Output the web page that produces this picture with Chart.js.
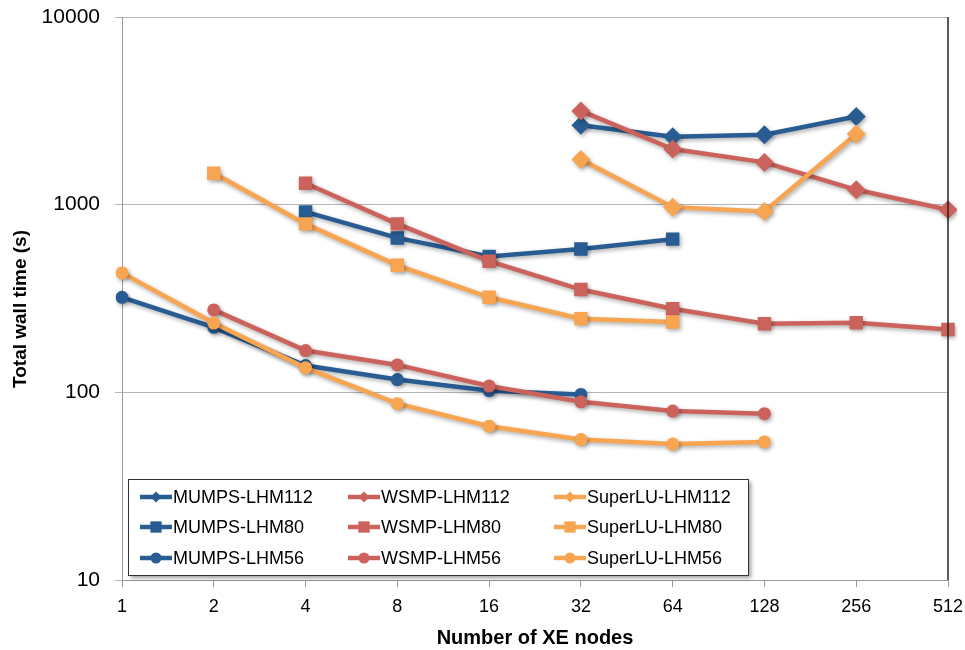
<!DOCTYPE html>
<html><head><meta charset="utf-8">
<script src="https://cdn.jsdelivr.net/npm/chart.js@4"></script>
<style>html,body{margin:0;padding:0;background:#fff}canvas{display:block}</style>
</head><body>
<canvas id="c" width="965" height="650"></canvas>
<script>
const xLabels = ['1','2','4','8','16','32','64','128','256','512'];
const yTicks = [10, 100, 1000, 10000];
const xTitle = 'Number of XE nodes';
const yTitle = 'Total wall time (s)';

const mumps112   = [null, null, null, null, null, 2650, 2300, 2360, 2950, null];
const wsmp112    = [null, null, null, null, null, 3160, 1980, 1680, 1200, 940];
const superlu112 = [null, null, null, null, null, 1740, 970, 920, 2380, null];
const mumps80    = [null, null, 915, 665, 530, 580, 655, null, null, null];
const wsmp80     = [null, null, 1300, 790, 500, 353, 279, 232, 235, 216];
const superlu80  = [null, 1470, 790, 475, 321, 247, 237, null, null, null];
const mumps56    = [321, 222, 139, 117, 102, 97.5, null, null, null, null];
const wsmp56     = [null, 275, 167, 140, 108, 89, 79.5, 77, null, null];
const superlu56  = [433, 234, 135, 87, 66, 56, 53, 54.4, null, null];

const seriesLabels = ['MUMPS-LHM112','WSMP-LHM112','SuperLU-LHM112',
                      'MUMPS-LHM80','WSMP-LHM80','SuperLU-LHM80',
                      'MUMPS-LHM56','WSMP-LHM56','SuperLU-LHM56'];
const seriesData = [mumps112, wsmp112, superlu112, mumps80, wsmp80, superlu80, mumps56, wsmp56, superlu56];

const BLUE = '#285C92', RED = '#CC625C', ORANGE = '#F8A552';
const colors = [BLUE, RED, ORANGE];
const styles = [
  {pointStyle:'rectRot', radius:9.5, lr:5.5},
  {pointStyle:'rect', radius:9.5, lr:8},
  {pointStyle:'circle', radius:6.5, lr:5.5}
];
const FONT = '"Liberation Sans", Arial, sans-serif';

const datasets = seriesData.map((d, i) => {
  const col = colors[i % 3], st = styles[Math.floor(i / 3)];
  return {
    label: seriesLabels[i], data: d,
    borderColor: col, backgroundColor: col,
    pointBackgroundColor: col, pointBorderColor: col, pointBorderWidth: 0,
    borderWidth: 4.5, pointStyle: st.pointStyle, pointRadius: st.radius,
    pointHoverRadius: st.radius, tension: 0, spanGaps: false,
    order: 3 - (i % 3)
  };
});

function noPad(s) { s.paddingTop = 0; s.paddingBottom = 0; s.paddingLeft = 0; s.paddingRight = 0; }

const decor = {
  id: 'decor',
  beforeDatasetsDraw(chart) {
    const c = chart.ctx; c.save();
    c.shadowColor = 'rgba(0,0,0,0.33)'; c.shadowBlur = 4; c.shadowOffsetX = 1.5; c.shadowOffsetY = 2;
  },
  afterDatasetsDraw(chart) { chart.ctx.restore(); },
  afterDraw(chart) {
    const c = chart.ctx, a = chart.chartArea;
    c.save();
    c.strokeStyle = '#222'; c.lineWidth = 1.5;
    c.beginPath(); c.moveTo(a.right, a.top); c.lineTo(a.right, a.bottom); c.stroke();
    c.restore();
    // y title
    c.save();
    c.translate(21, 309); c.rotate(-Math.PI / 2);
    c.font = 'bold 19px ' + FONT; c.fillStyle = '#000';
    c.textAlign = 'center'; c.textBaseline = 'middle';
    c.fillText(yTitle, 0, 0);
    c.restore();
    // legend
    const bx = 128, by = 479, bw = 620, bh = 96;
    c.save();
    c.shadowColor = 'rgba(0,0,0,0.4)'; c.shadowBlur = 4; c.shadowOffsetX = 3; c.shadowOffsetY = 3;
    c.fillStyle = '#fff'; c.fillRect(bx, by, bw, bh);
    c.restore();
    c.save();
    c.strokeStyle = '#333'; c.lineWidth = 1;
    c.strokeRect(bx + 0.5, by + 0.5, bw, bh);
    c.restore();
    const colX = [140, 348, 554], rowY = [497, 527, 558];
    chart.data.datasets.forEach((ds, i) => {
      const x = colX[i % 3], y = rowY[Math.floor(i / 3)];
      const st = styles[Math.floor(i / 3)];
      c.save();
      c.strokeStyle = ds.borderColor; c.lineWidth = 4.5;
      c.beginPath(); c.moveTo(x, y); c.lineTo(x + 32, y); c.stroke();
      c.fillStyle = ds.borderColor;
      Chart.helpers.drawPoint(c, {pointStyle: st.pointStyle, radius: st.lr, borderWidth: 0, rotation: 0}, x + 16, y);
      c.fillStyle = '#000'; c.font = '18px ' + FONT;
      c.textAlign = 'left'; c.textBaseline = 'middle';
      c.fillText(ds.label, x + 33, y + 1);
      c.restore();
    });
  }
};

new Chart(document.getElementById('c').getContext('2d'), {
  type: 'line',
  data: {labels: xLabels, datasets},
  options: {
    responsive: false, animation: false, devicePixelRatio: 1,
    layout: {padding: {top: 17, right: 17, left: 0, bottom: 0}},
    plugins: {legend: {display: false}, tooltip: {enabled: false}},
    scales: {
      x: {
        type: 'category', offset: false,
        grid: {drawOnChartArea: false, drawTicks: true, tickLength: 7, color: '#999'},
        border: {color: '#999', width: 1},
        ticks: {font: {family: FONT, size: 18}, color: '#000', padding: 9, maxRotation: 0, autoSkip: false},
        title: {display: true, text: xTitle, font: {family: FONT, size: 20, weight: 'bold'}, color: '#000', padding: {top: 0, bottom: 0}},
        afterFit(s) { s.height = 70; noPad(s); }
      },
      y: {
        type: 'logarithmic', min: 10, max: 10000,
        afterBuildTicks(s) { s.ticks = yTicks.map(v => ({value: v})); },
        ticks: {callback: v => String(v), font: {family: FONT, size: 21}, color: '#000', padding: 15},
        grid: {color: '#b5b5b5', tickLength: 7, lineWidth: 1},
        border: {color: '#999', width: 1},
        afterFit(s) { s.width = 122; noPad(s); }
      }
    }
  },
  plugins: [decor]
});
</script>
</body></html>
